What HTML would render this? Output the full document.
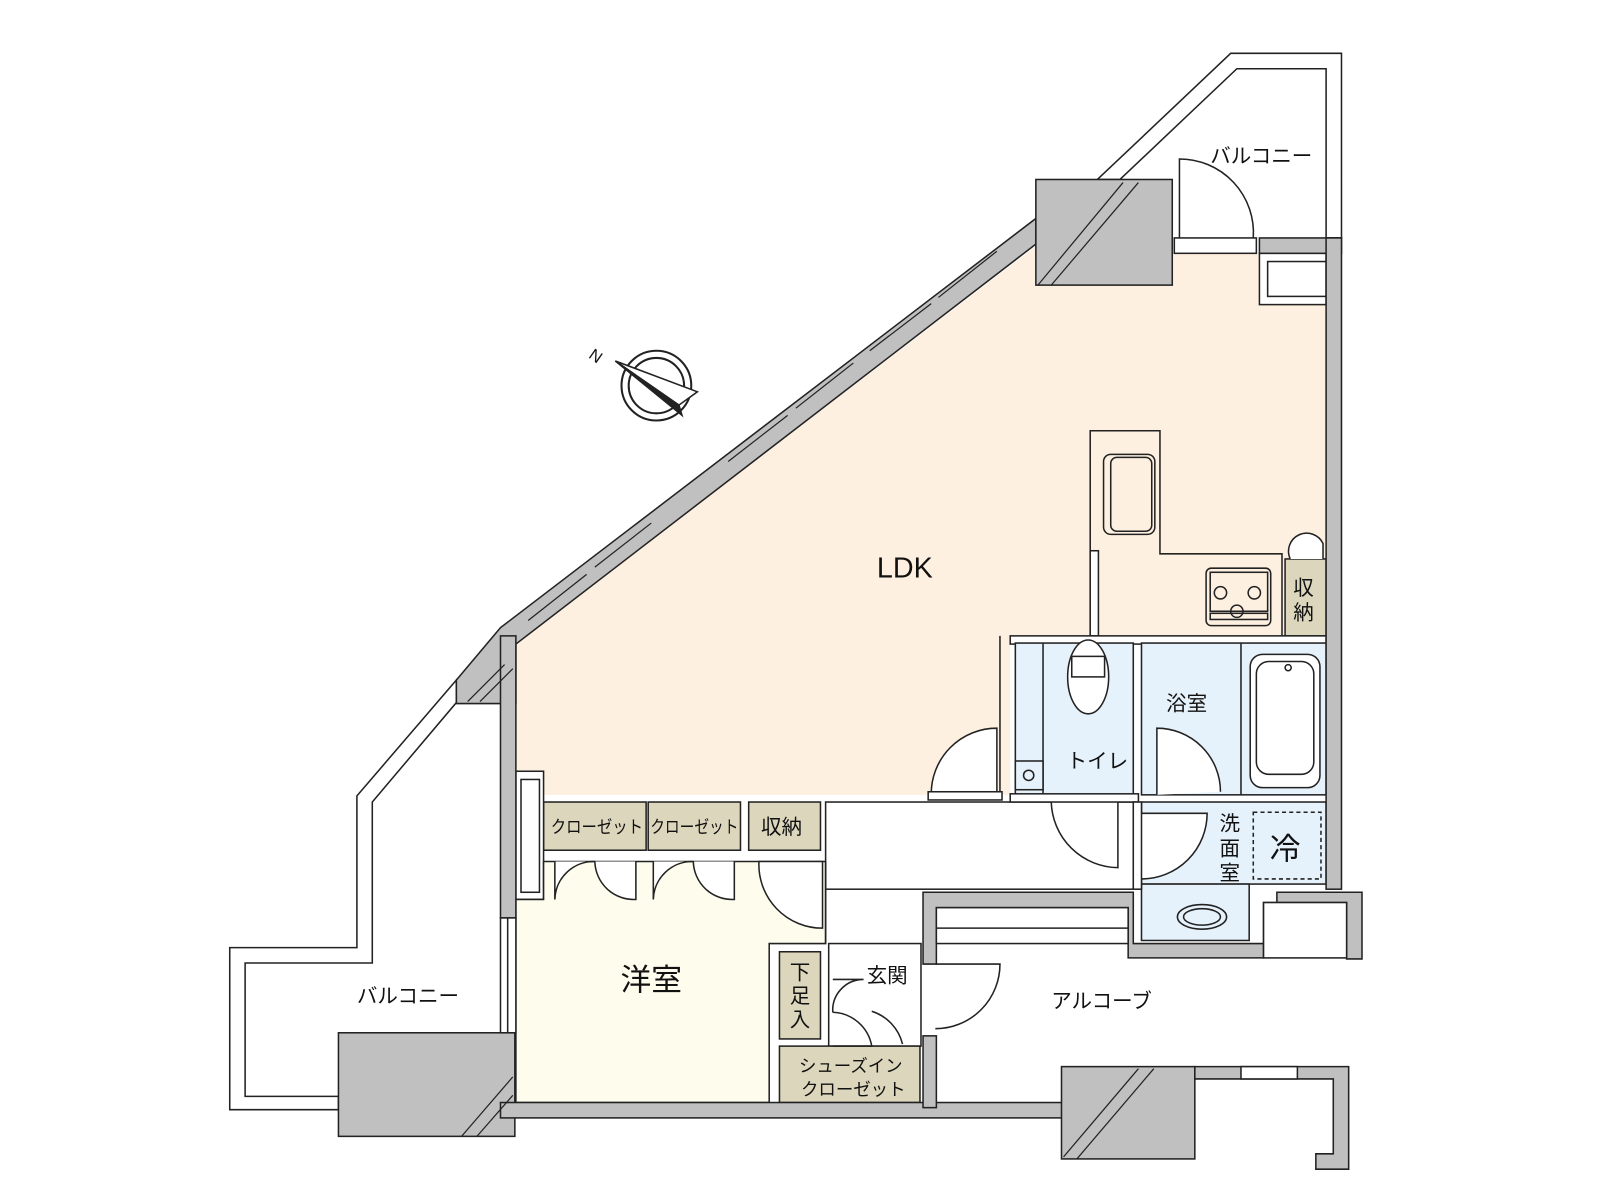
<!DOCTYPE html>
<html><head><meta charset="utf-8"><style>
html,body{margin:0;padding:0;background:#fff;}
svg{display:block;}
text{font-family:"Liberation Sans","Noto Sans CJK JP",sans-serif;fill:#111;}
</style></head><body>
<svg width="1600" height="1200" viewBox="0 0 1600 1200" xmlns="http://www.w3.org/2000/svg">
<g transform="scale(1.0256)">
<g stroke="#222" stroke-width="1.5" stroke-linejoin="miter">
<polygon points="1070,175 1200,52 1308,52 1308,232 1293,232 1293,67 1206,67 1092,175" fill="#fff"/>
<polygon points="445,663 348,776 348,924 224,924 224,1082 330,1082 330,1069 239,1069 239,939 363,939 363,782 445,685" fill="#fff"/>

<polygon points="503,628 1010,240 1010,278 1143,278 1143,247 1293,247 1293,620 985,620 985,775 503,775" fill="#fdf0e0" stroke="none"/>
<rect x="1228" y="247" width="65" height="50" fill="#fff"/>
<rect x="1236" y="255" width="57" height="34" fill="#fff"/>
<polyline points="1063,620 1063,420 1131,420 1131,540 1250,540 1250,620" fill="none"/>
<rect x="1063" y="537" width="8" height="83" fill="#fff"/>
<rect x="1076" y="443" width="50" height="78" rx="7" fill="none"/>
<rect x="1083" y="446" width="40" height="72" rx="6" fill="none"/>
<rect x="1176" y="554" width="63" height="56" rx="5" fill="none"/>
<rect x="1180" y="558" width="56" height="38" fill="none"/>
<circle cx="1190" cy="578" r="6" fill="none"/><circle cx="1223" cy="578" r="6" fill="none"/><circle cx="1206" cy="596" r="6" fill="none"/>
<rect x="1180" y="598" width="56" height="6" fill="none"/>
<rect x="1253" y="545" width="40" height="75" fill="#dcd6bc"/>
<path d="M1258,545 A16,16 0 0 1 1290,530 L1290,545" fill="#fff"/>

<rect x="985" y="620" width="308" height="8" fill="#fff"/>
<rect x="990" y="627" width="115" height="148" fill="#e6f2fb"/>
<line x1="1017" y1="627" x2="1017" y2="775"/>
<rect x="990" y="742" width="27" height="28" fill="#e6f2fb"/>
<circle cx="1003" cy="756" r="5" fill="none"/>
<ellipse cx="1061" cy="660" rx="20" ry="36" fill="#fff"/>
<rect x="1045" y="640" width="32" height="20" fill="#fff"/>
<rect x="1113" y="627" width="180" height="148" fill="#e6f2fb"/>
<line x1="1210" y1="627" x2="1210" y2="775"/>
<rect x="1219" y="638" width="68" height="130" rx="12" fill="#fff"/>
<rect x="1225" y="645" width="56" height="110" rx="12" fill="none"/>
<circle cx="1256" cy="651" r="3" fill="none"/>
<path d="M1128,775 L1128,710 A62,62 0 0 1 1190,772" fill="#fff"/>
<path d="M972,775 L972,710 A64,64 0 0 0 908,775" fill="#fff"/>
<line x1="975" y1="620" x2="975" y2="780"/>
<rect x="905" y="772" width="72" height="8" fill="#fff"/>

<rect x="805" y="782" width="300" height="85" fill="#fff"/>
<path d="M1090,782 L1090,846 A66,66 0 0 1 1025,782" fill="#fff"/>
<rect x="985" y="774" width="125" height="8" fill="#fff"/>
<rect x="1113" y="782" width="180" height="80" fill="#e6f2fb"/>
<rect x="1113" y="862" width="105" height="55" fill="#e6f2fb"/>
<path d="M1113,793 L1177,793 A64,64 0 0 1 1113,857" fill="#fff"/>
<rect x="1105" y="782" width="8" height="85" fill="#fff"/>
<rect x="1222" y="792" width="66" height="65" fill="none" stroke-dasharray="4,3"/>
<ellipse cx="1172" cy="894" rx="24" ry="12" fill="none"/>
<ellipse cx="1172" cy="894" rx="18" ry="8" fill="none"/>

<rect x="530" y="782" width="100" height="47" fill="#dcd6bc"/>
<rect x="632" y="782" width="90" height="47" fill="#dcd6bc"/>
<rect x="730" y="782" width="70" height="47" fill="#dcd6bc"/>
<rect x="503" y="752" width="27" height="125" fill="#fff"/>
<rect x="508" y="760" width="18" height="110" fill="#fff"/>
<polygon points="503,877 530,877 530,840 805,840 805,920 750,920 750,1075 503,1075" fill="#fefcec"/>
<path d="M541,840 L541,877 A38,38 0 0 1 580,840 M580,840 A38,38 0 0 0 620,877 L620,840" fill="#fff"/>
<path d="M637,840 L637,877 A38,38 0 0 1 676,840 M676,840 A38,38 0 0 0 716,877 L716,840" fill="#fff"/>
<path d="M740,840 A62,62 0 0 0 802,905 L802,840 Z" fill="#fff"/>
<line x1="805" y1="840" x2="805" y2="920"/>
<rect x="808" y="920" width="90" height="100" fill="#fff"/>
<rect x="760" y="928" width="40" height="85" fill="#dcd6bc"/>
<rect x="760" y="1020" width="137" height="55" fill="#dcd6bc"/>
<path d="M812,987 A30,30 0 0 1 842,955 L812,955 M812,987 A40,40 0 0 1 850,1020 L812,1020" fill="none"/>
<path d="M850,986 A45,45 0 0 1 880,1018" fill="none"/>
<path d="M912,940 L975,940 A63,63 0 0 1 912,1003" fill="#fff"/>

<g fill="#c0c0c0">
<polygon points="488,612 1010,213 1010,238 503,628 503,686 445,686 445,663"/>
<rect x="488" y="620" width="15" height="275"/>
<rect x="1010" y="175" width="133" height="103"/>
<rect x="1228" y="232" width="80" height="15"/>
<rect x="1293" y="232" width="15" height="635"/>
<rect x="330" y="1007" width="172" height="101"/>
<rect x="488" y="1075" width="550" height="15"/>
<polygon points="900,870 1105,870 1105,920 1245,920 1245,870 1328,870 1328,935 1313,935 1313,880 1232,880 1232,934 1100,934 1100,885 913,885 913,940 900,940"/>
<rect x="900" y="1010" width="13" height="70"/>
<rect x="1035" y="1040" width="130" height="90"/>
<polygon points="1165,1040 1315,1040 1315,1140 1283,1140 1283,1125 1300,1125 1300,1052 1165,1052"/>
</g>
<rect x="488" y="895" width="15" height="112" fill="#fff"/>
<line x1="495" y1="895" x2="495" y2="1007"/>
<rect x="913" y="885" width="187" height="35" fill="#fff"/>
<line x1="913" y1="905" x2="1100" y2="905"/>
<rect x="1232" y="880" width="81" height="54" fill="#fff"/>
<rect x="1210" y="1040" width="55" height="12" fill="#fff"/>
<rect x="1145" y="232" width="80" height="15" fill="#fff"/>
<path d="M1150,232 L1150,155 A72,72 0 0 1 1222,232" fill="none"/>
<g stroke="#222" stroke-width="1.2">
<line x1="1012" y1="278" x2="1095" y2="178"/><line x1="1025" y1="278" x2="1110" y2="178"/>
<line x1="450" y1="1108" x2="500" y2="1050"/><line x1="465" y1="1108" x2="500" y2="1068"/>
<line x1="1037" y1="1128" x2="1110" y2="1042"/><line x1="1050" y1="1130" x2="1125" y2="1042"/>
<line x1="456" y1="684" x2="492" y2="648"/><line x1="468" y1="684" x2="500" y2="652"/>
</g>
<g stroke="#222" stroke-width="1.2">
<line x1="515" y1="605" x2="572" y2="560"/><line x1="580" y1="553" x2="635" y2="510"/>
<line x1="710" y1="450" x2="768" y2="405"/><line x1="776" y1="398" x2="832" y2="354"/>
<line x1="848" y1="342" x2="908" y2="296"/><line x1="915" y1="290" x2="972" y2="245"/>
</g>
<circle cx="640" cy="376" r="34" fill="#fff" stroke-width="2"/>
<circle cx="640" cy="376" r="27" fill="none" stroke-width="2"/>
<polygon points="600,352 680,382 662,395" fill="#fff"/>
<polygon points="600,352 662,395 665,405" fill="#222"/>
</g>
<text x="575" y="352" font-size="16" transform="rotate(35 580 347)">N</text>
<g font-size="20">
<text x="1180" y="159">バルコニー</text>
<text x="348" y="978">バルコニー</text>
<text x="1025" y="983">アルコーブ</text>
<text x="1137" y="693">浴室</text>
<text x="1040" y="749">トイレ</text>
<text x="845" y="958">玄関</text>
<text x="1189" y="810">洗</text><text x="1189" y="834">面</text><text x="1189" y="858">室</text>
<text x="1261" y="580">収</text><text x="1261" y="604">納</text>
<text x="770" y="955">下</text><text x="770" y="978">足</text><text x="770" y="1001">入</text>
<text x="742" y="813">収納</text>
</g>
<g font-size="17">
<text x="537" y="812" textLength="90" lengthAdjust="spacingAndGlyphs">クローゼット</text>
<text x="634" y="812" textLength="86" lengthAdjust="spacingAndGlyphs">クローゼット</text>
<text x="779" y="1045">シューズイン</text>
<text x="781" y="1068">クローゼット</text>
</g>
<text x="855" y="563" font-size="28">LDK</text>
<text x="605" y="966" font-size="30">洋室</text>
<text x="1238" y="838" font-size="30">冷</text>
</g>
</svg>
</body></html>
